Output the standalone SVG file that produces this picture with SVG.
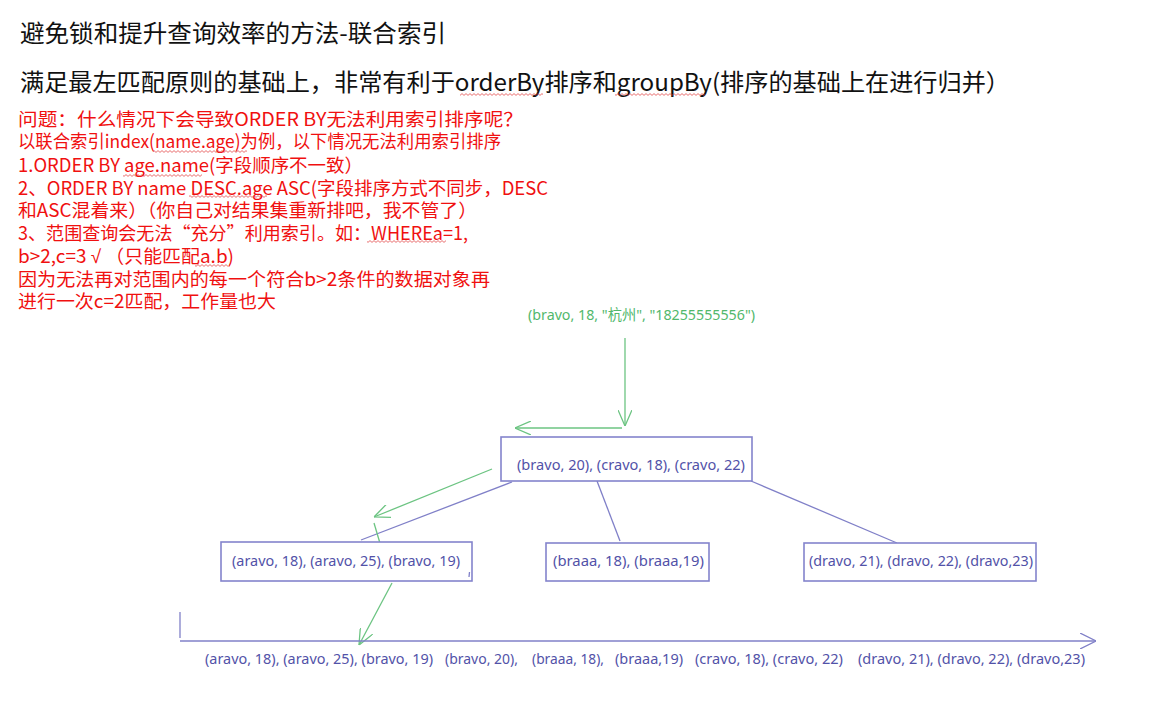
<svg xmlns="http://www.w3.org/2000/svg" width="1169" height="704" viewBox="0 0 1169 704">
<style>
.t{font-family:"Noto Sans CJK SC","Noto Sans",sans-serif;fill:#111}
.r{font-family:"Noto Sans CJK SC","Noto Sans",sans-serif;font-size:18.5px;fill:#f01010}
.b{font-family:"Noto Sans","Noto Sans CJK SC",sans-serif;font-size:15px;fill:#5252a8}
.g{font-family:"Noto Sans","Noto Sans CJK SC",sans-serif;font-size:15px;fill:#52b86c}
.box{fill:#fff;stroke:#8484cc;stroke-width:1.6}
.bl{stroke:#8080c8;stroke-width:1.3;fill:none}
.gl{stroke:#6cc482;stroke-width:1.3;fill:none}
</style>
<defs>
<pattern id="sq" width="4" height="3" patternUnits="userSpaceOnUse">
<path d="M0 2.4 L2 0.6 L4 2.4" fill="none" stroke="#e03030" stroke-width="0.7"/>
</pattern>
<marker id="ga" viewBox="0 0 16 14" refX="16" refY="7" markerWidth="16" markerHeight="14" markerUnits="userSpaceOnUse" orient="auto">
<path d="M0 0 L16 7 L0 14" fill="none" stroke="#6cc482" stroke-width="1.3"/>
</marker>
<marker id="ba" viewBox="0 0 16 16" refX="16" refY="8" markerWidth="16" markerHeight="16" markerUnits="userSpaceOnUse" orient="auto">
<path d="M0 0 L16 8 L0 16" fill="none" stroke="#8080c8" stroke-width="1.3"/>
</marker>
</defs>
<rect width="1169" height="704" fill="#fff"/>
<g id="texts">
<text class="t" x="20" y="42" font-size="24" textLength="426" lengthAdjust="spacingAndGlyphs">避免锁和提升查询效率的方法-联合索引</text>
<text class="t" x="20" y="91" font-size="24" textLength="990" lengthAdjust="spacingAndGlyphs">满足最左匹配原则的基础上，非常有利于orderBy排序和groupBy(排序的基础上在进行归并）</text>
<text class="r" x="18" y="126" textLength="505" lengthAdjust="spacingAndGlyphs">问题：什么情况下会导致ORDER BY无法利用索引排序呢？</text>
<text class="r" x="18" y="148" textLength="483" lengthAdjust="spacingAndGlyphs">以联合索引index(name.age)为例，以下情况无法利用索引排序</text>
<text class="r" x="18" y="172" textLength="345" lengthAdjust="spacingAndGlyphs">1.ORDER BY age.name(字段顺序不一致）</text>
<text class="r" x="18" y="195" textLength="530" lengthAdjust="spacingAndGlyphs">2、ORDER BY name DESC.age ASC(字段排序方式不同步，DESC</text>
<text class="r" x="18" y="217" textLength="459" lengthAdjust="spacingAndGlyphs">和ASC混着来）（你自己对结果集重新排吧，我不管了）</text>
<text class="r" x="18" y="240" textLength="450" lengthAdjust="spacingAndGlyphs">3、范围查询会无法“充分”利用索引。如：WHEREa=1,</text>
<text class="r" x="18" y="263" textLength="216" lengthAdjust="spacingAndGlyphs">b&gt;2,c=3 <tspan font-family="Liberation Sans, sans-serif">√</tspan> （只能匹配a.b)</text>
<text class="r" x="18" y="286" textLength="472" lengthAdjust="spacingAndGlyphs">因为无法再对范围内的每一个符合b&gt;2条件的数据对象再</text>
<text class="r" x="18" y="308" textLength="258" lengthAdjust="spacingAndGlyphs">进行一次c=2匹配，工作量也大</text>
</g>
<g id="squiggles" fill="url(#sq)">
<rect x="460" y="93" width="83" height="3"/>
<rect x="615" y="93" width="90" height="3"/>
<rect x="153" y="150" width="94" height="3"/>
<rect x="123" y="174" width="79" height="3"/>
<rect x="189" y="195" width="78" height="3"/>
<rect x="367" y="240" width="79" height="3"/>
<rect x="195" y="264" width="33" height="3"/>
</g>
<g id="connectors">
<line class="bl" x1="512" y1="482" x2="361" y2="540"/>
<line class="bl" x1="597" y1="481" x2="620" y2="541"/>
<line class="bl" x1="751" y1="481" x2="897" y2="543"/>
<line class="gl" x1="625" y1="338" x2="625" y2="426" marker-end="url(#ga)"/>
<line class="gl" x1="622" y1="428" x2="515" y2="428" marker-end="url(#ga)"/>
<line class="gl" x1="492" y1="469" x2="374" y2="517" marker-end="url(#ga)"/>
<line class="gl" x1="374" y1="523" x2="390" y2="577" marker-end="url(#ga)"/>
<line class="gl" x1="392" y1="583" x2="359" y2="645" marker-end="url(#ga)"/>
<line class="bl" x1="180" y1="612" x2="180" y2="638"/>
<line class="bl" x1="180" y1="641" x2="1096" y2="641" marker-end="url(#ba)"/>
</g>
<g id="new-record">
<text class="g" x="528" y="320" textLength="227" lengthAdjust="spacingAndGlyphs">(bravo, 18, "杭州", "18255555556")</text>
</g>
<g id="root">
<rect class="box" x="501" y="437" width="251" height="44"/>
<text class="b" x="517" y="470" textLength="228" lengthAdjust="spacingAndGlyphs">(bravo, 20), (cravo, 18), (cravo, 22)</text>
</g>
<g id="leaf-a">
<rect class="box" x="221" y="542" width="251" height="39"/>
<text class="b" x="232" y="566" textLength="228" lengthAdjust="spacingAndGlyphs">(aravo, 18), (aravo, 25), (bravo, 19)</text>
<line class="bl" x1="469.5" y1="572" x2="469" y2="577"/>
</g>
<g id="leaf-b">
<rect class="box" x="546" y="543" width="163" height="38"/>
<text class="b" x="553" y="566" textLength="151" lengthAdjust="spacingAndGlyphs">(braaa, 18),  (braaa,19)</text>
</g>
<g id="leaf-d">
<rect class="box" x="804" y="543" width="232" height="38"/>
<text class="b" x="809" y="566" textLength="224" lengthAdjust="spacingAndGlyphs">(dravo, 21), (dravo, 22), (dravo,23)</text>
</g>
<g id="sequence">
<text class="b" x="205" y="664" textLength="228" lengthAdjust="spacingAndGlyphs">(aravo, 18), (aravo, 25), (bravo, 19)</text>
<text class="b" x="445" y="664" textLength="73" lengthAdjust="spacingAndGlyphs">(bravo, 20),</text>
<text class="b" x="532" y="664" textLength="72" lengthAdjust="spacingAndGlyphs">(braaa, 18),</text>
<text class="b" x="615" y="664" textLength="68" lengthAdjust="spacingAndGlyphs">(braaa,19)</text>
<text class="b" x="695" y="664" textLength="148" lengthAdjust="spacingAndGlyphs">(cravo, 18), (cravo, 22)</text>
<text class="b" x="858" y="664" textLength="227" lengthAdjust="spacingAndGlyphs">(dravo, 21), (dravo, 22), (dravo,23)</text>
</g>
</svg>
